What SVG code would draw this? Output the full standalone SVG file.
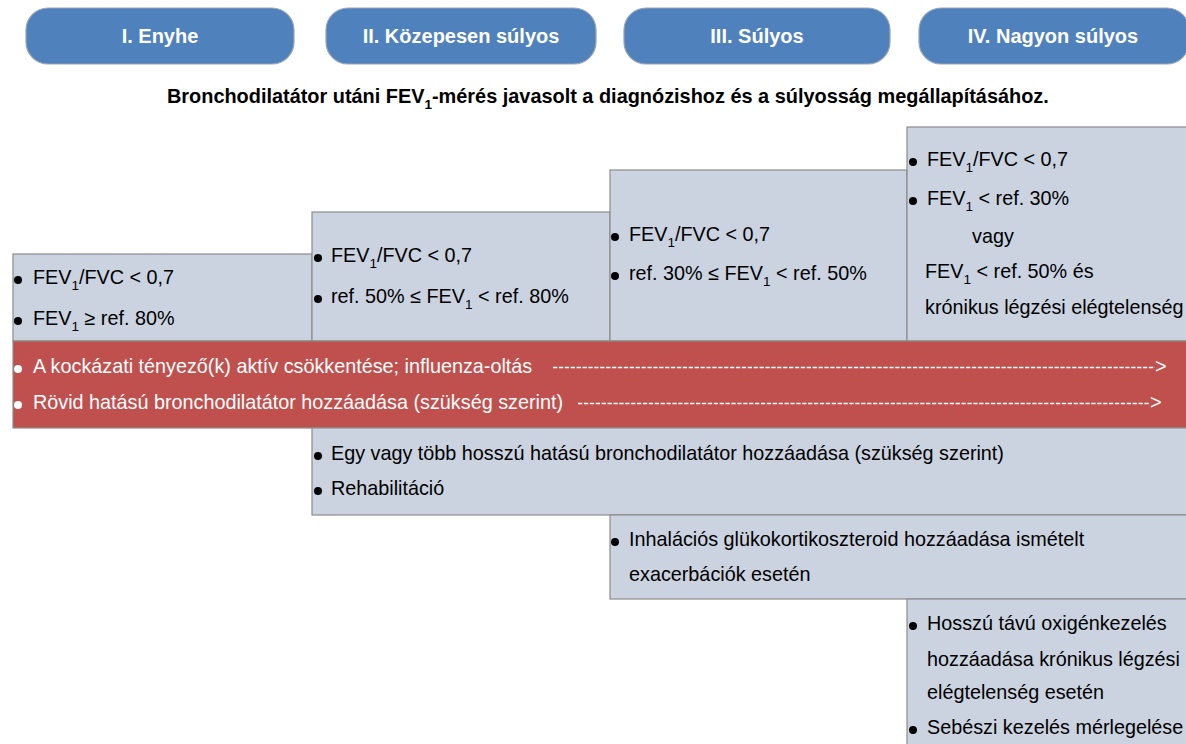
<svg xmlns="http://www.w3.org/2000/svg" width="1186" height="744" viewBox="0 0 1186 744">
<defs>
<style>
.pill{fill:#4F81BD;stroke:#9AA6B6;stroke-width:1.2}
.pt{font-family:"Liberation Sans",Arial,sans-serif;font-weight:bold;font-size:20px;fill:#fff;text-anchor:middle}
.box{fill:#CBD3E0;stroke:#8C8C8C;stroke-width:1.2}
.red{fill:#C0504D;stroke:#8C8C8C;stroke-width:1.2}
.t{font-family:"Liberation Sans",Arial,sans-serif;font-size:19.8px;fill:#000}
.w{font-family:"Liberation Sans",Arial,sans-serif;font-size:19.8px;fill:#fff}
.sub{font-size:13.5px}
.b{fill:#000}
.bw{fill:#fff}
.dash{stroke:#fff;stroke-width:1.5;stroke-dasharray:4.3 1.6;fill:none}
.st{font-family:"Liberation Sans",Arial,sans-serif;font-weight:bold;font-size:19.9px;fill:#000}
</style>
</defs>

<g id="stage-I"><rect class="pill" x="26" y="8" width="268" height="56" rx="22"/><text class="pt" x="160" y="43">I. Enyhe</text></g>
<g id="stage-II"><rect class="pill" x="326" y="8" width="270" height="56" rx="22"/><text class="pt" x="461" y="43">II. Közepesen súlyos</text></g>
<g id="stage-III"><rect class="pill" x="624" y="8" width="266" height="56" rx="22"/><text class="pt" x="757" y="43">III. Súlyos</text></g>
<g id="stage-IV"><rect class="pill" x="919" y="8" width="270" height="56" rx="22"/><text class="pt" x="1053" y="43">IV. Nagyon súlyos</text></g>

<g id="subtitle"><text class="st" x="167" y="103">Bronchodilatátor utáni FEV<tspan class="sub" dy="6">1</tspan><tspan dy="-6">-mérés javasolt a diagnózishoz és a súlyosság megállapításához.</tspan></text></g>

<g id="box-I">
<rect class="box" x="13" y="254" width="299" height="87"/>
<circle class="b" cx="18" cy="280" r="4"/>
<text class="t" x="33" y="284">FEV<tspan class="sub" dy="6">1</tspan><tspan dy="-6">/FVC &lt; 0,7</tspan></text>
<circle class="b" cx="18" cy="321" r="4"/>
<text class="t" x="33" y="325">FEV<tspan class="sub" dy="6">1</tspan><tspan dy="-6"> ≥ ref. 80%</tspan></text>
</g>

<g id="box-II">
<rect class="box" x="312" y="212" width="298" height="129"/>
<circle class="b" cx="318" cy="258" r="4"/>
<text class="t" x="331" y="262">FEV<tspan class="sub" dy="6">1</tspan><tspan dy="-6">/FVC &lt; 0,7</tspan></text>
<circle class="b" cx="318" cy="299" r="4"/>
<text class="t" x="331" y="303">ref. 50% ≤ FEV<tspan class="sub" dy="6">1</tspan><tspan dy="-6"> &lt; ref. 80%</tspan></text>
</g>

<g id="box-III">
<rect class="box" x="610" y="170" width="297" height="171"/>
<circle class="b" cx="615" cy="237" r="4"/>
<text class="t" x="629" y="241">FEV<tspan class="sub" dy="6">1</tspan><tspan dy="-6">/FVC &lt; 0,7</tspan></text>
<circle class="b" cx="615" cy="276" r="4"/>
<text class="t" x="629" y="280">ref. 30% ≤ FEV<tspan class="sub" dy="6">1</tspan><tspan dy="-6"> &lt; ref. 50%</tspan></text>
</g>

<g id="box-IV">
<rect class="box" x="907" y="127" width="285" height="214"/>
<circle class="b" cx="913" cy="162" r="4"/>
<text class="t" x="927" y="166">FEV<tspan class="sub" dy="6">1</tspan><tspan dy="-6">/FVC &lt; 0,7</tspan></text>
<circle class="b" cx="913" cy="201" r="4"/>
<text class="t" x="927" y="205">FEV<tspan class="sub" dy="6">1</tspan><tspan dy="-6"> &lt; ref. 30%</tspan></text>
<text class="t" x="972" y="243">vagy</text>
<text class="t" x="925" y="278">FEV<tspan class="sub" dy="6">1</tspan><tspan dy="-6"> &lt; ref. 50% és</tspan></text>
<text class="t" x="925" y="314">krónikus légzési elégtelenség</text>
</g>

<g id="all-stages">
<rect class="red" x="13" y="341" width="1179" height="87"/>
<circle class="bw" cx="18" cy="369" r="4"/>
<text class="w" x="33" y="373">A kockázati tényező(k) aktív csökkentése; influenza-oltás</text>
<circle class="bw" cx="18" cy="405" r="4"/>
<text class="w" x="33" y="409">Rövid hatású bronchodilatátor hozzáadása (szükség szerint)</text>
</g>

<g id="box-LABA">
<rect class="box" x="312" y="428" width="880" height="87"/>
<circle class="b" cx="318" cy="456" r="4"/>
<text class="t" x="331" y="460">Egy vagy több hosszú hatású bronchodilatátor hozzáadása (szükség szerint)</text>
<circle class="b" cx="318" cy="491" r="4"/>
<text class="t" x="331" y="495">Rehabilitáció</text>
</g>

<g id="box-ICS">
<rect class="box" x="610" y="515" width="582" height="84"/>
<circle class="b" cx="615" cy="542" r="4"/>
<text class="t" x="629" y="546">Inhalációs glükokortikoszteroid hozzáadása ismételt</text>
<text class="t" x="629" y="581">exacerbációk esetén</text>
</g>

<g id="box-oxygen">
<rect class="box" x="907" y="599" width="285" height="150"/>
<circle class="b" cx="913" cy="626" r="4"/>
<text class="t" x="927" y="630">Hosszú távú oxigénkezelés</text>
<text class="t" x="927" y="666">hozzáadása krónikus légzési</text>
<text class="t" x="927" y="699">elégtelenség esetén</text>
<circle class="b" cx="913" cy="730" r="4"/>
<text class="t" x="927" y="734">Sebészi kezelés mérlegelése</text>
</g>

<g id="connectors">
<line class="dash" x1="553" y1="367.5" x2="1155" y2="367.5"/>
<text class="w" x="1155" y="373">&gt;</text>
<line class="dash" x1="578" y1="403.5" x2="1150" y2="403.5"/>
<text class="w" x="1150" y="409">&gt;</text>
</g>
</svg>
